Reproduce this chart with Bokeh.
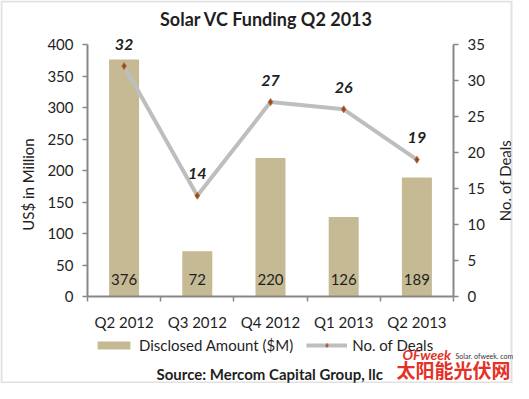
import math
from bokeh.plotting import figure
from bokeh.models import (ColumnDataSource, Range1d, LinearAxis, Label, BoxAnnotation,
                          Legend, LegendItem, FixedTicker, LabelSet)
from bokeh.core.properties import value
from bokeh.embed import file_html
from bokeh.resources import INLINE

# ---------------- data ----------------
quarters = ["Q2 2012", "Q3 2012", "Q4 2012", "Q1 2013", "Q2 2013"]
amounts = [376, 72, 220, 126, 189]
deals = [32, 14, 27, 26, 19]
left_ticks = [0, 50, 100, 150, 200, 250, 300, 350, 400]
right_ticks = [0, 5, 10, 15, 20, 25, 30, 35]
AMT_MAX = 400
DEAL_MAX = 35

# ---------------- layout (pixels) ----------------
W, H = 513, 383
PX_LEFT, PX_STEP = 87.0, 73.2          # left axis position, category width
PX_Y0, PX_YTOP = 296.0, 44.0           # pixel rows of y=0 and y=max (from top)
ppu = (PX_Y0 - PX_YTOP) / AMT_MAX
ymin = -(H - PX_Y0) / ppu
ymax = AMT_MAX + PX_YTOP / ppu
xc0 = PX_LEFT + PX_STEP / 2
xmin = -xc0 / PX_STEP
xmax = (W - xc0) / PX_STEP
k = DEAL_MAX / AMT_MAX

FONT = "Lato"
TXT = "#1f1f1f"
AX = "#878787"

idx = list(range(len(quarters)))
src = ColumnDataSource(dict(x=idx, amt=amounts, deals=deals,
                            amt_lbl=[str(a) for a in amounts],
                            deal_lbl=[str(d) for d in deals]))

p = figure(width=W, height=H, output_backend="svg", toolbar_location=None,
           x_range=Range1d(xmin, xmax), y_range=Range1d(ymin, ymax),
           min_border=0, x_axis_type=None, y_axis_type=None)
p.extra_y_ranges = {"deals": Range1d(ymin * k, ymax * k)}
p.title.text = ""
p.title.visible = False
p.background_fill_color = "white"
p.border_fill_color = "white"
p.outline_line_color = None
p.grid.visible = False

bars = p.vbar(x="x", top="amt", width=0.41, source=src, fill_color="#C6BA94", line_color=None)
line = p.line(x="x", y="deals", source=src, y_range_name="deals",
              line_color="#BEBEBE", line_width=4)
pts = p.scatter(x="x", y="deals", source=src, y_range_name="deals", marker="diamond",
                size=7, fill_color="#8E4A25", line_color="#C0703A", line_width=1)

p.add_layout(LabelSet(x="x", y=0, text="amt_lbl", source=src, text_align="center",
                      text_baseline="middle", y_offset=17, text_font=value(FONT),
                      text_font_size="15px", text_color=TXT))
p.add_layout(LabelSet(x="x", y="deals", y_range_name="deals", text="deal_lbl", source=src,
                      text_align="center", text_baseline="middle", y_offset=22,
                      text_font=value(FONT), text_font_size="16px",
                      text_font_style="bold italic", text_color=TXT))

def style_axis(ax):
    ax.axis_line_color = AX
    ax.axis_line_width = 2
    ax.major_tick_line_color = AX
    ax.major_tick_line_width = 1.5
    ax.major_tick_out = 5
    ax.major_tick_in = 0
    ax.minor_tick_line_color = None
    ax.major_label_text_font = FONT
    ax.major_label_text_font_size = "15px"
    ax.major_label_text_color = TXT
    ax.major_label_standoff = 9

ya = LinearAxis(ticker=FixedTicker(ticks=left_ticks), bounds=(0, AMT_MAX), fixed_location=-0.5)
style_axis(ya)
p.add_layout(ya, "left")

ra = LinearAxis(y_range_name="deals", ticker=FixedTicker(ticks=right_ticks),
                bounds=(0, DEAL_MAX), fixed_location=len(quarters) - 0.5)
style_axis(ra)
p.add_layout(ra, "right")

xa = LinearAxis(ticker=FixedTicker(ticks=idx, minor_ticks=[i - 0.5 for i in idx] + [len(idx) - 0.5]),
                bounds=(-0.5, len(quarters) - 0.5), fixed_location=0,
                major_label_overrides={i: q for i, q in enumerate(quarters)})
style_axis(xa)
xa.major_tick_line_color = None
xa.major_tick_out = 0
xa.minor_tick_line_color = AX
xa.minor_tick_line_width = 1.5
xa.minor_tick_out = 5
xa.minor_tick_in = 0
xa.major_label_standoff = 11
p.add_layout(xa, "below")

def lab(text, x, y_top, size, style="normal", color=TXT, align="left", angle=0, font=FONT):
    p.add_layout(Label(x=x, y=H - y_top, x_units="screen", y_units="screen", text=text,
                       text_font=font, text_font_size=size, text_font_style=style,
                       text_color=color, text_align=align, text_baseline="middle", angle=angle))

lab("Solar VC Funding Q2 2013", 266, 18, "18px", "bold", align="center")
lab("US$ in Million", 27, 184, "15px", align="center", angle=math.pi / 2)
lab("No. of Deals", 504, 180, "15px", align="center", angle=math.pi / 2)

legend = Legend(items=[LegendItem(label="Disclosed Amount ($M)", renderers=[bars]),
                       LegendItem(label="No. of Deals", renderers=[line, pts])],
                orientation="horizontal", location=(93, H - 354),
                glyph_width=41, glyph_height=10, label_text_font=FONT,
                label_text_font_size="15px", label_text_color=TXT,
                background_fill_alpha=0, border_line_color=None, spacing=13,
                padding=0, margin=0, label_standoff=5, label_height=18)
p.add_layout(legend)

lab("Source: Mercom Capital Group, llc", 156, 373, "15px", "bold")
lab("OFweek", 402, 354, "14px", "bold italic", color="#E53127")
lab("Solar. ofweek. com", 455, 355, "7px", color="#333333")
lab("太阳能光伏网", 396, 369, "19px", "bold", color="#E53127", font="Noto Sans CJK SC")

p.add_layout(BoxAnnotation(left=1, right=W - 2, bottom=1, top=H - 1,
                           left_units="screen", right_units="screen",
                           bottom_units="screen", top_units="screen",
                           fill_alpha=0, line_color="#9A9A9A", line_width=2))

open("out.html", "w").write(file_html(p, INLINE))
